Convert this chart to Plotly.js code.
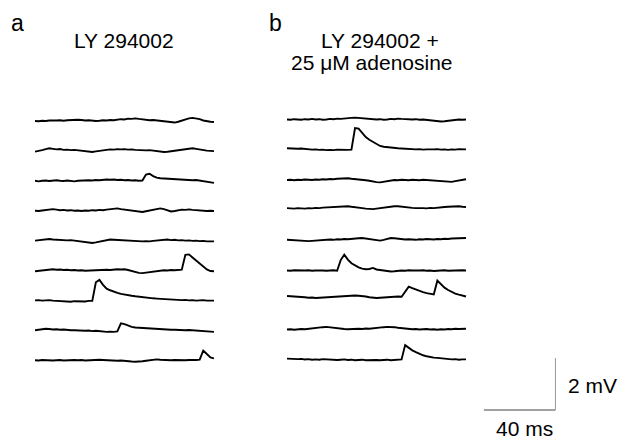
<!DOCTYPE html>
<html>
<head>
<meta charset="utf-8">
<script src="https://cdn.plot.ly/plotly-3.0.1.min.js"></script>
<style>html,body{margin:0;padding:0;background:#fff;}#chart{width:619px;height:441px;}</style>
</head>
<body>
<div id="chart"></div>
<script>
// ---- sampling (ms) ----
const sampleIntervalMs = 2;
const sweepLengthMs = 100;

// ---- panel a: LY 294002 (mV, 9 sweeps) ----
const a1 = [0.00,-0.01,0.01,0.00,0.02,0.01,0.02,0.03,0.01,0.03,0.04,0.03,0.05,0.04,0.02,0.03,0.01,0.00,0.01,0.03,0.02,0.04,0.03,0.05,0.07,0.06,0.09,0.08,0.10,0.08,0.06,0.05,0.03,0.04,0.02,0.00,-0.01,-0.03,-0.05,-0.06,-0.03,0.02,0.07,0.10,0.12,0.10,0.07,0.02,-0.02,-0.03,-0.04];
const a2 = [-0.03,-0.01,0.03,0.07,0.10,0.08,0.06,0.07,0.04,0.05,0.03,0.04,0.02,0.00,-0.02,-0.03,-0.04,-0.02,0.00,0.02,0.05,0.06,0.05,0.07,0.06,0.07,0.05,0.06,0.04,0.03,0.04,0.02,0.03,0.01,-0.01,-0.02,-0.04,-0.03,-0.01,0.01,0.04,0.06,0.08,0.09,0.10,0.08,0.05,0.03,0.01,0.00,-0.01];
const a3 = [0.00,-0.02,0.00,0.01,-0.01,0.00,0.02,0.00,-0.01,0.01,0.00,-0.02,0.00,0.01,0.00,0.02,0.01,0.03,0.02,0.04,0.05,0.04,0.05,0.03,0.04,0.02,0.03,0.01,0.02,0.00,0.01,0.24,0.27,0.18,0.12,0.10,0.09,0.08,0.08,0.06,0.07,0.05,0.05,0.04,0.02,0.03,0.01,0.00,-0.02,-0.05,-0.08];
const a4 = [0.00,-0.01,0.01,0.03,0.05,0.06,0.04,0.02,0.03,0.01,0.02,0.00,0.01,-0.01,0.01,0.00,0.02,0.01,0.03,0.02,0.04,0.06,0.07,0.09,0.06,0.04,0.02,0.00,-0.02,-0.04,-0.05,-0.02,0.01,0.04,0.07,0.09,0.06,0.01,-0.03,-0.01,0.02,0.04,0.03,0.05,0.03,0.02,0.00,0.01,-0.01,0.00,-0.01];
const a5 = [0.00,0.01,0.03,0.05,0.06,0.04,0.03,0.04,0.02,0.01,0.02,0.00,-0.02,-0.04,-0.06,-0.08,-0.09,-0.07,-0.04,-0.01,0.02,0.04,0.03,0.02,0.03,0.01,0.00,-0.01,-0.03,-0.02,-0.03,-0.02,-0.03,-0.01,0.00,0.02,0.03,0.04,0.02,0.03,0.01,0.02,0.00,0.01,-0.01,0.00,-0.02,-0.01,-0.03,-0.02,-0.03];
const a6 = [-0.03,-0.01,0.01,0.03,0.05,0.05,0.03,0.04,0.02,0.03,0.01,0.02,0.00,0.01,-0.01,0.00,0.00,0.01,0.02,0.02,0.03,0.02,0.04,0.05,0.04,0.05,0.02,-0.02,-0.06,-0.09,-0.10,-0.08,-0.05,-0.03,-0.01,0.00,0.01,0.00,0.02,0.01,0.03,0.03,0.60,0.62,0.50,0.38,0.26,0.14,0.04,-0.02,-0.03];
const a7 = [0.00,0.01,-0.01,0.00,0.01,-0.01,-0.02,-0.04,-0.03,-0.04,-0.05,-0.03,-0.04,-0.03,-0.04,-0.02,-0.02,0.70,0.79,0.60,0.45,0.39,0.33,0.29,0.25,0.22,0.20,0.18,0.16,0.14,0.13,0.11,0.10,0.08,0.07,0.06,0.05,0.05,0.03,0.03,0.02,0.01,0.02,0.00,0.01,-0.01,0.00,0.01,-0.01,0.00,-0.01];
const a8 = [0.00,0.02,0.04,0.06,0.05,0.03,0.04,0.02,0.03,0.01,0.00,0.00,-0.01,0.00,-0.02,-0.01,-0.03,-0.02,-0.04,-0.05,-0.06,-0.05,-0.06,-0.04,0.27,0.24,0.17,0.13,0.11,0.10,0.08,0.07,0.06,0.05,0.04,0.05,0.03,0.03,0.02,0.02,0.01,0.02,0.00,0.01,0.00,-0.01,-0.02,-0.03,-0.04,-0.05,-0.06];
const a9 = [0.00,-0.01,0.01,0.00,0.01,-0.01,0.00,0.01,-0.01,0.00,0.02,0.01,0.00,0.01,-0.01,0.00,0.01,0.00,0.02,0.01,0.00,-0.01,0.00,-0.02,-0.01,-0.03,-0.04,-0.05,-0.06,-0.06,-0.04,-0.02,0.00,0.02,0.03,0.02,0.01,0.02,0.00,0.01,0.00,0.01,0.00,0.01,0.00,0.01,0.02,0.37,0.24,0.11,0.07];

// ---- panel b: LY 294002 + 25 uM adenosine (mV, 9 sweeps) ----
const b1 = [0.06,0.05,0.07,0.06,0.05,0.07,0.06,0.08,0.06,0.07,0.05,0.06,0.08,0.07,0.09,0.08,0.10,0.11,0.12,0.13,0.12,0.10,0.09,0.07,0.08,0.06,0.07,0.05,0.06,0.08,0.07,0.09,0.08,0.07,0.08,0.06,0.07,0.05,0.06,0.04,0.03,0.01,-0.01,-0.02,-0.01,0.01,0.03,0.05,0.06,0.05,0.06];
const b2 = [0.10,0.09,0.10,0.08,0.09,0.07,0.06,0.05,0.06,0.04,0.05,0.03,0.04,0.03,0.05,0.04,0.05,0.04,0.05,0.88,0.86,0.68,0.53,0.43,0.35,0.26,0.19,0.16,0.14,0.12,0.11,0.10,0.09,0.08,0.08,0.07,0.06,0.07,0.05,0.06,0.05,0.06,0.07,0.05,0.06,0.04,0.06,0.05,0.07,0.06,0.06];
const b3 = [0.03,0.04,0.02,0.04,0.03,0.05,0.04,0.03,0.05,0.04,0.06,0.05,0.07,0.06,0.08,0.09,0.10,0.10,0.08,0.07,0.05,0.04,0.02,0.00,-0.03,-0.05,-0.06,-0.04,-0.01,0.01,0.03,0.02,0.04,0.03,0.02,0.04,0.03,0.02,0.04,0.03,0.02,0.01,0.00,-0.02,-0.04,-0.05,-0.04,-0.01,0.02,0.04,0.06];
const b4 = [0.10,0.09,0.08,0.10,0.09,0.08,0.10,0.09,0.11,0.10,0.12,0.13,0.12,0.14,0.15,0.16,0.17,0.17,0.15,0.14,0.12,0.10,0.08,0.07,0.06,0.08,0.10,0.12,0.14,0.16,0.17,0.17,0.15,0.13,0.12,0.11,0.10,0.11,0.10,0.09,0.11,0.10,0.12,0.13,0.14,0.15,0.16,0.17,0.17,0.15,0.14];
const b5 = [0.03,0.02,0.01,-0.01,-0.02,-0.03,-0.02,-0.01,0.00,0.02,0.03,0.02,0.04,0.03,0.05,0.04,0.06,0.05,0.07,0.08,0.09,0.10,0.08,0.05,0.02,0.00,0.00,0.03,0.07,0.10,0.09,0.07,0.05,0.04,0.05,0.04,0.03,0.05,0.04,0.06,0.05,0.04,0.06,0.05,0.07,0.06,0.08,0.09,0.10,0.09,0.10];
const b6 = [0.00,-0.01,0.01,0.00,-0.01,0.00,0.01,-0.01,0.00,0.01,0.00,-0.01,0.00,0.01,-0.01,0.40,0.61,0.42,0.28,0.19,0.12,0.07,0.05,0.06,0.10,0.04,0.02,0.00,-0.02,-0.04,-0.03,-0.01,0.00,-0.01,0.01,0.00,-0.01,0.00,0.01,-0.01,0.00,-0.02,-0.01,0.00,0.01,-0.01,0.00,-0.01,0.00,0.01,0.00];
const b7 = [0.17,0.16,0.17,0.15,0.14,0.12,0.10,0.11,0.09,0.10,0.11,0.10,0.12,0.13,0.14,0.15,0.16,0.17,0.18,0.19,0.18,0.17,0.15,0.12,0.10,0.09,0.10,0.11,0.13,0.14,0.13,0.15,0.14,0.35,0.53,0.47,0.41,0.36,0.32,0.28,0.25,0.23,0.76,0.62,0.49,0.40,0.32,0.26,0.22,0.19,0.15];
const b8 = [0.03,0.04,0.02,0.04,0.05,0.04,0.06,0.08,0.09,0.11,0.12,0.13,0.11,0.09,0.07,0.06,0.05,0.04,0.05,0.04,0.06,0.05,0.07,0.06,0.08,0.09,0.10,0.12,0.13,0.13,0.12,0.10,0.08,0.06,0.05,0.04,0.05,0.03,0.04,0.05,0.03,0.04,0.02,0.04,0.03,0.05,0.04,0.06,0.05,0.06,0.06];
const b9 = [0.06,0.05,0.06,0.04,0.05,0.03,0.04,0.02,0.03,0.02,0.04,0.03,0.02,0.03,0.01,0.02,0.03,0.01,0.02,0.00,0.01,0.02,0.00,0.01,0.02,0.01,0.00,0.01,0.02,0.00,0.01,0.02,0.03,0.58,0.47,0.38,0.31,0.24,0.19,0.15,0.12,0.10,0.09,0.07,0.05,0.04,0.03,0.04,0.02,0.03,0.03];

const panelA = [a1,a2,a3,a4,a5,a6,a7,a8,a9];
const panelB = [b1,b2,b3,b4,b5,b6,b7,b8,b9];

// ---- scale bars ----
const scaleBarMs = 40;
const scaleBarMv = 2;

// ---- text ----
const panelLabels = ['a','b'];
const titleA = 'LY 294002';
const titleB1 = 'LY 294002 +';
const titleB2 = '25 \u03bcM adenosine';
const scaleLabelV = '2 mV';
const scaleLabelH = '40 ms';

// ---- geometry (layout only) ----
const W = 619, H = 441;
const pxPerMs = 1.79;
const pxPerMv = 26;
const firstRowPx = 121;
const rowStepPx = 29.9;
const aLeft = 35, bLeft = 287;
const barCorner = {xMs: 150, yPx: 410};

const t = [];
for (let k = 0; k * sampleIntervalMs <= sweepLengthMs; k++) t.push(k * sampleIntervalMs);

const font = 'Liberation Sans, Arial, Helvetica, sans-serif';
const traces = [];
function addPanel(rows, xaxis) {
  rows.forEach((vals, i) => {
    const off = -(firstRowPx + i * rowStepPx) / pxPerMv;
    traces.push({
      x: t, y: vals.map(v => v + off), xaxis: xaxis, yaxis: 'y',
      type: 'scatter', mode: 'lines', hoverinfo: 'skip',
      line: {color: '#000', width: 1.9}
    });
  });
}
addPanel(panelA, 'x');
addPanel(panelB, 'x2');

const barY0 = -barCorner.yPx / pxPerMv;
traces.push({
  x: [barCorner.xMs - scaleBarMs, barCorner.xMs, barCorner.xMs],
  y: [barY0, barY0, barY0 + scaleBarMv],
  xaxis: 'x2', yaxis: 'y', type: 'scatter', mode: 'lines', hoverinfo: 'skip',
  line: {color: '#444', width: 1.1}
});

const bWidthMs = 150;
function ann(text, px, py, size) {
  return {text: text, x: px / W, y: 1 - py / H, xref: 'paper', yref: 'paper',
          showarrow: false, xanchor: 'center', yanchor: 'middle', borderpad: 0,
          font: {family: font, size: size, color: '#000'}};
}

const layout = {
  width: W, height: H,
  margin: {l: 0, r: 0, t: 0, b: 0, pad: 0},
  paper_bgcolor: '#fff', plot_bgcolor: '#fff',
  showlegend: false,
  xaxis: {domain: [aLeft / W, (aLeft + sweepLengthMs * pxPerMs) / W], range: [0, sweepLengthMs], visible: false, fixedrange: true},
  xaxis2: {domain: [bLeft / W, (bLeft + bWidthMs * pxPerMs) / W], range: [0, bWidthMs], visible: false, fixedrange: true},
  yaxis: {domain: [0, 1], range: [-H / pxPerMv, 0], visible: false, fixedrange: true},
  annotations: [
    ann(panelLabels[0], 17, 23, 23),
    ann(panelLabels[1], 275, 23, 23),
    ann(titleA, 124, 41, 21),
    ann(titleB1, 380, 40, 21),
    ann(titleB2, 371.5, 62, 21),
    ann(scaleLabelV, 592.5, 385, 21),
    ann(scaleLabelH, 524.5, 428.5, 21)
  ]
};

Plotly.newPlot('chart', traces, layout, {staticPlot: true, displayModeBar: false});
</script>
</body>
</html>
